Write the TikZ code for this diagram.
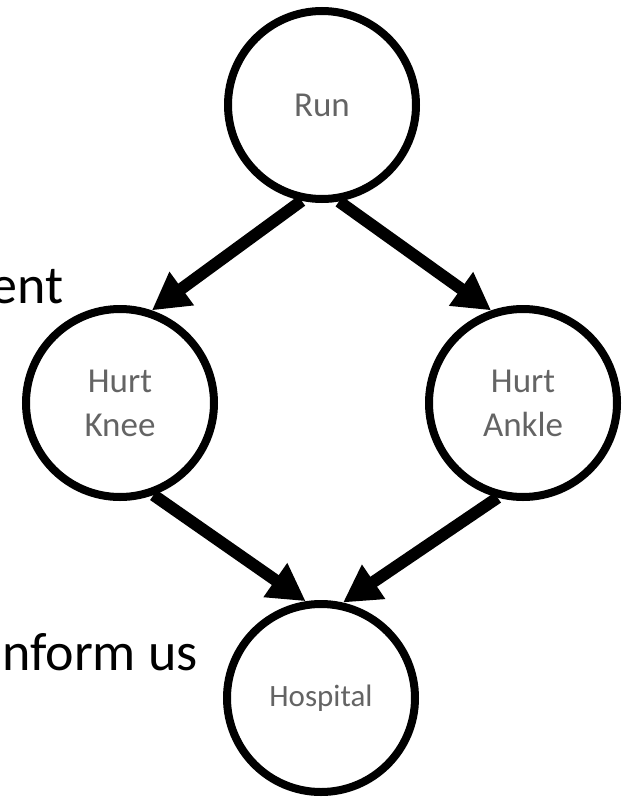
\documentclass[tikz,border=0pt]{standalone}
\usepackage{fontspec}
\setmainfont{Carlito}
\usetikzlibrary{arrows.meta}
\definecolor{labelgray}{RGB}{100,100,100}
\begin{document}
\begin{tikzpicture}[x=1pt,y=-1pt,
  event/.style={circle, draw=black, line width=8pt, minimum size=188pt,
    inner sep=0pt, text=labelgray, align=center,
    font=\fontsize{35}{44}\selectfont},
  link/.style={line width=12pt, -{Triangle[length=37pt,width=39pt]}},
  side/.style={font=\fontsize{54}{64}\selectfont, text=black, inner sep=0pt}]
\useasboundingbox (0,0) rectangle (622,798);

% events
\node[event] (run)   at (322,105) {Run};
\node[event] (knee)  at (120,403) {Hurt\\Knee};
\node[event] (ankle) at (523,403) {Hurt\\Ankle};
\node[event, font=\fontsize{31}{38}\selectfont] (hosp) at (321,698) {Hospital};

% causal links
\draw[link] (run.-102)  -- (knee.71);
\draw[link] (run.-80)   -- (ankle.109);
\draw[link] (knee.-70)  -- (hosp.99);
\draw[link] (ankle.-105) -- (hosp.77);

% side text
\node[side, anchor=base east] (t1) at (64,303) {ent};
\node[side, anchor=base east] (t2) at (198,670) {nform us};
\end{tikzpicture}
\end{document}
